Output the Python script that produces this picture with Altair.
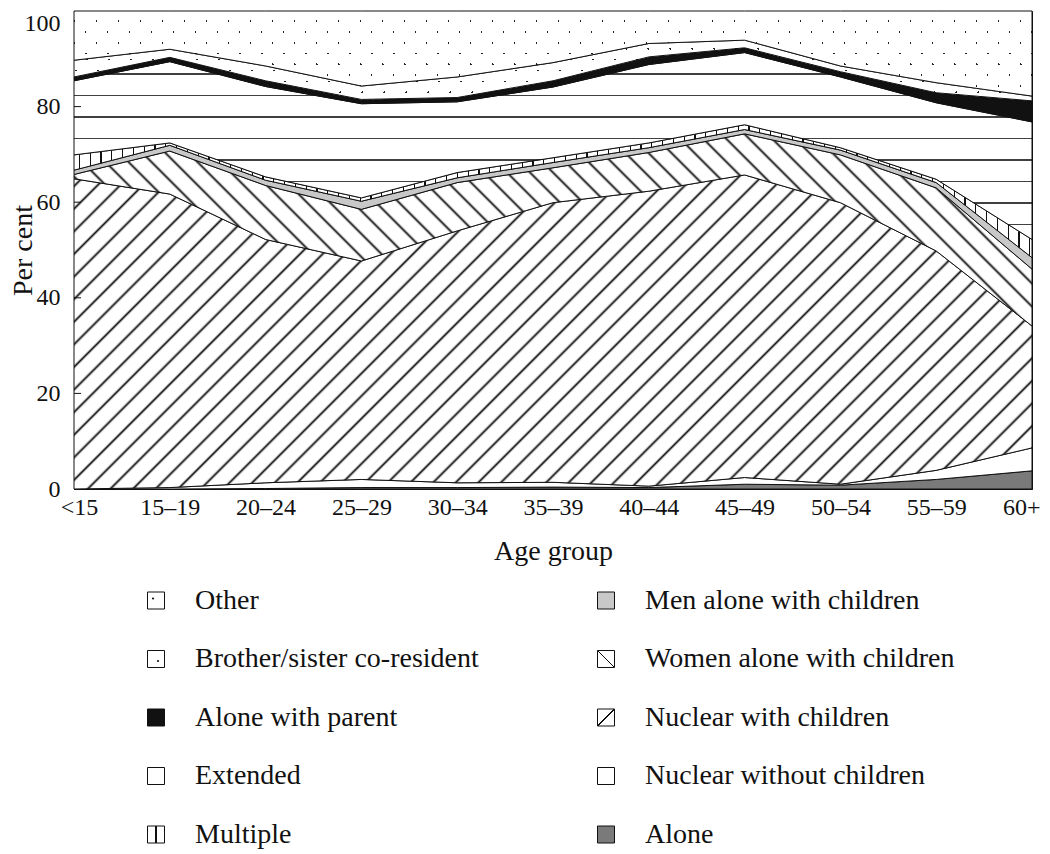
import math
import altair as alt
import pandas as pd

# ---------------- data ----------------
ages = ["<15", "15–19", "20–24", "25–29", "30–34", "35–39",
        "40–44", "45–49", "50–54", "55–59", "60+"]

series_names = ["Alone", "Nuclear without children", "Nuclear with children",
                "Women alone with children", "Men alone with children", "Multiple",
                "Extended", "Alone with parent", "Brother/sister co-resident", "Other"]

alone           = [0.0, 0.0, 0.1, 0.3, 0.3, 0.4, 0.3, 1.0, 0.8, 2.0, 3.8]
nuclear_without = [0.0, 0.3, 1.2, 1.7, 1.0, 1.0, 0.3, 1.4, 0.2, 1.9, 4.8]
nuclear_with    = [64.9, 61.4, 50.9, 45.7, 52.7, 58.5, 61.7, 63.3, 58.9, 45.9, 25.5]
women_alone     = [0.9, 9.0, 11.3, 10.8, 10.1, 7.3, 8.1, 8.6, 10.0, 13.2, 11.9]
men_alone       = [0.9, 1.2, 1.1, 1.7, 1.0, 1.1, 1.0, 0.9, 1.0, 1.1, 2.4]
multiple        = [3.2, 0.5, 0.7, 0.7, 1.1, 1.0, 1.0, 1.0, 0.5, 0.7, 3.8]
extended        = [15.5, 17.0, 18.9, 19.7, 14.8, 14.8, 16.4, 15.1, 14.8, 16.0, 24.6]
alone_parent    = [0.8, 0.9, 1.2, 0.9, 0.9, 1.3, 1.6, 1.0, 1.1, 2.1, 4.4]
sibling         = [3.5, 1.7, 3.1, 2.8, 4.3, 3.8, 2.8, 1.6, 1.2, 2.1, 1.0]
other           = [10.3, 8.0, 11.5, 15.7, 13.8, 10.8, 6.8, 6.1, 11.5, 15.0, 17.8]

series_values = [alone, nuclear_without, nuclear_with, women_alone, men_alone,
                 multiple, extended, alone_parent, sibling, other]

y_tick_values = [0, 20, 40, 60, 80, 100]
inner_ticks = [20, 40, 60, 80]

legend_names = ["Other", "Brother/sister co-resident", "Alone with parent", "Extended", "Multiple",
                "Men alone with children", "Women alone with children", "Nuclear with children",
                "Nuclear without children", "Alone"]
legend_cols = [0, 0, 0, 0, 0, 1, 1, 1, 1, 1]
legend_rows = [0, 1, 2, 3, 4, 0, 1, 2, 3, 4]

# ---------------- style ----------------
PW, PH = 958, 478
FONT = "Liberation Serif"
INK = "#111111"

records = []
for order, (name, vals) in enumerate(zip(series_names, series_values)):
    for age, v in zip(ages, vals):
        records.append({"series": name, "order": order, "age": age, "pct": v})
df = pd.DataFrame(records)

# vertical extent of each band, only used to scale the fill patterns
band_ext = {}
low = [0.0] * len(ages)
for name, vals in zip(series_names, series_values):
    up = [a + b for a, b in zip(low, vals)]
    band_ext[name] = (min(low), max(up))
    low = up


def band_px(name):
    lo, hi = band_ext[name]
    return (hi - lo) * PH / 100.0


def hard(width, line, bg):
    return [(-width / 2, bg), (-width / 2, line), (width / 2, line), (width / 2, bg)]


def soft(bg):
    # smooth, anti-aliased looking line profile (pixels across the line)
    return [(-2.2, bg), (-1.3, "#c4c4c4"), (-0.6, "#5a5a5a"), (0.0, "#151515"),
            (0.6, "#5a5a5a"), (1.3, "#c4c4c4"), (2.2, bg)]


def gradient(nx, ny, W, H, centers, profile, bg):
    """Stripes along iso-lines of nx*X + ny*Y inside a W x H bounding box."""
    S = abs(nx) * W + abs(ny) * H
    Q = nx * nx * W * W + ny * ny * H * H
    gx, gy = S * nx * W / Q, S * ny * H / Q
    u0 = 0.0 if nx >= 0 else 1.0
    v0 = 0.0 if ny >= 0 else 1.0
    k = math.hypot(nx, ny) / S
    half = max(abs(o) for o, _ in profile) * k
    stops = [alt.GradientStop(color=bg, offset=0)]
    for c in centers:
        f = c / S
        if f - half <= 0 or f + half >= 1:
            continue
        for o, col in profile:
            stops.append(alt.GradientStop(color=col, offset=round(f + o * k, 6)))
    stops.append(alt.GradientStop(color=bg, offset=1))
    return alt.LinearGradient(gradient="linear", stops=stops, x1=u0, y1=v0,
                              x2=round(u0 + gx, 6), y2=round(v0 + gy, 6))


def pattern(nx, ny, W, H, spacing, profile, bg, first=None):
    S = abs(nx) * W + abs(ny) * H
    c = spacing / 2 if first is None else first
    centers = []
    while c < S:
        centers.append(c)
        c += spacing
    return gradient(nx, ny, W, H, centers, profile, bg)


DOT_P, DOT_R = 22.0, 10.8
CLEAR = "rgba(255,255,255,0)"


def dots_under(name):
    return pattern(DOT_R, DOT_P / 2, PW, band_px(name), DOT_R * DOT_P,
                   hard(1.5, "#222222", "white"), "white")


def dots_over(name):
    return pattern(DOT_R, -DOT_P / 2, PW, band_px(name), DOT_R * DOT_P,
                   hard(1.5, CLEAR, "white"), "white")


ext_top = band_ext["Extended"][1]
fills = {
    "Alone": "#7a7a7a",
    "Nuclear without children": "white",
    "Nuclear with children": pattern(1, 1, PW, band_px("Nuclear with children"), 22.6,
                                     soft("white"), "white"),
    "Women alone with children": pattern(1, -1, PW, band_px("Women alone with children"), 23.0,
                                         soft("white"), "white"),
    "Men alone with children": "#c8c8c8",
    "Multiple": pattern(1, 0, PW, band_px("Multiple"), 10.8, hard(1.2, INK, "white"), "white"),
    "Extended": pattern(0, 1, PW, band_px("Extended"), 4.5 * PH / 100,
                        hard(1.4, "#404040", "white"), "white",
                        first=(ext_top - 86.8) * PH / 100),
    "Alone with parent": "#111111",
}

# ---------------- main chart ----------------
first_last_offset = {"condition": [{"test": "datum.value == '60+'", "value": 8},
                                   {"test": "datum.value == '<15'", "value": 5}],
                     "value": 0}
X = alt.X("age:O", sort=ages, scale=alt.Scale(padding=0),
          axis=alt.Axis(title="Age group", labelAngle=0, ticks=False, labelPadding=6,
                        titlePadding=18, labelFontSize=24, titleFontSize=28,
                        labelAlign={"condition": {"test": "datum.value == '60+'", "value": "right"},
                                    "value": "center"},
                        labelOffset=first_last_offset))
Y = alt.Y("y0:Q", scale=alt.Scale(domain=[0, 100], nice=False),
          axis=alt.Axis(values=y_tick_values, title="Per cent", grid=False, ticks=False,
                        labelPadding=14, titleX=-37, labelFontSize=24, titleFontSize=28,
                        labelBaseline={"condition": {"test": "datum.value == 100", "value": "top"},
                                       "value": "middle"}))
Y2 = alt.Y2("y1:Q")

base = alt.Chart(df).transform_stack(
    stack="pct", groupby=["age"], as_=["y0", "y1"],
    sort=[alt.SortField(field="order", order="ascending")])

layers = []
for name in series_names:
    b = base.transform_filter(alt.datum.series == name)
    if name in ("Other", "Brother/sister co-resident"):
        layers.append(b.mark_area(fill=dots_under(name), opacity=1).encode(x=X, y=Y, y2=Y2))
        layers.append(b.mark_area(fill=dots_over(name), stroke=INK, strokeWidth=1, opacity=1)
                      .encode(x=X, y=Y, y2=Y2))
    else:
        layers.append(b.mark_area(fill=fills[name], stroke=INK, strokeWidth=1, opacity=1)
                      .encode(x=X, y=Y, y2=Y2))

ticks = alt.Chart(pd.DataFrame({"y0": inner_ticks})).mark_rule(color=INK, strokeWidth=1).encode(
    y=Y, x=alt.value(0), x2=alt.value(7))
layers.append(ticks)

main = alt.layer(*layers).properties(
    width=PW, height=PH, view=alt.ViewBackground(stroke=INK, strokeWidth=1))

# ---------------- legend ----------------
leg_df = pd.DataFrame({"name": legend_names, "col": legend_cols, "row": legend_rows})
LX = alt.X("col:Q", scale=alt.Scale(domain=[0, 1], range=[82, 532]), axis=None)
LY = alt.Y("row:Q", scale=alt.Scale(domain=[0, 4], range=[33.5, 267.5]), axis=None)

S17 = 17
sym_line = hard(1.3, INK, "white")
legend_fills = {
    "Other": "white",
    "Brother/sister co-resident": "white",
    "Alone with parent": "#111111",
    "Extended": "white",
    "Multiple": gradient(1, 0, S17, S17, [S17 / 2], sym_line, "white"),
    "Men alone with children": "#c8c8c8",
    "Women alone with children": gradient(1, -1, S17, S17, [S17], sym_line, "white"),
    "Nuclear with children": gradient(1, 1, S17, S17, [S17], sym_line, "white"),
    "Nuclear without children": "white",
    "Alone": "#7a7a7a",
}

lbase = alt.Chart(leg_df)
leg_layers = []
for name in legend_names:
    leg_layers.append(
        lbase.transform_filter(alt.datum.name == name)
        .mark_square(size=S17 * S17, fill=legend_fills[name], stroke=INK, strokeWidth=1, opacity=1)
        .encode(x=LX, y=LY))
leg_layers.append(lbase.transform_filter(alt.datum.name == "Other")
                  .mark_circle(size=5, color=INK, opacity=1, xOffset=-3, yOffset=-2)
                  .encode(x=LX, y=LY))
leg_layers.append(lbase.transform_filter(alt.datum.name == "Brother/sister co-resident")
                  .mark_circle(size=5, color=INK, opacity=1, xOffset=2, yOffset=2)
                  .encode(x=LX, y=LY))
leg_layers.append(lbase.mark_text(align="left", baseline="middle", dx=39, font=FONT,
                                  fontSize=28, color=INK)
                  .encode(x=LX, y=LY, text="name:N"))

legend = alt.layer(*leg_layers).properties(width=900, height=266)

chart = alt.vconcat(main, legend, spacing=0).properties(
    padding=0, background="white"
).configure_view(stroke="transparent").configure_axis(
    labelFont=FONT, titleFont=FONT, labelColor=INK, titleColor=INK,
    domainColor=INK, domainWidth=1, titleFontWeight="normal"
)

chart.save("out.html", embed_options={"renderer": "svg", "actions": False})
